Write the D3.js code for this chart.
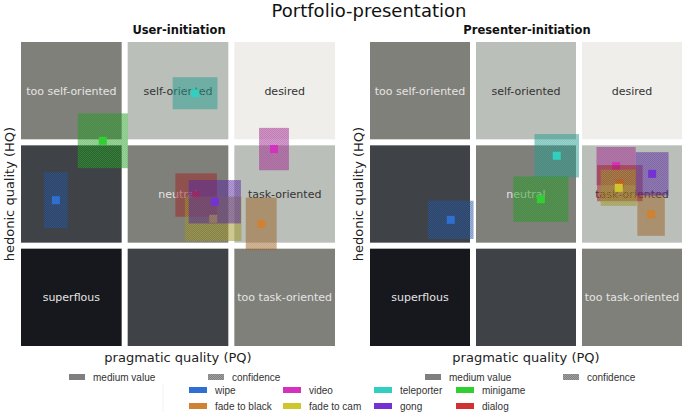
<!doctype html>
<html>
  <head>
    <meta charset="utf-8">
    <title>Portfolio-presentation</title>
    <style>
      body { margin: 0; background: #fff; }
      svg { display: block; }
      .cell-label { font-family: "DejaVu Sans", sans-serif; font-size: 11px; }
      .axis-label { font-family: "DejaVu Sans", sans-serif; font-size: 13px; fill: #222; }
      .legend text { font-family: "Liberation Sans", Arial, sans-serif; font-size: 10px; fill: #333; }
    </style>
  </head>
  <body>
    <div id="chart"></div>
    <script src="https://cdn.jsdelivr.net/npm/d3@7"></script>
    <script>
      // techniques, in legend order
      var techniques = ['wipe', 'fade to black', 'video', 'fade to cam', 'teleporter', 'gong', 'minigame', 'dialog'];
      var techColors = ['#2f6fd2', '#cf8233', '#d332bd', '#cfc62f', '#31cfbf', '#7432d2', '#31cf31', '#d13131'];

      // user-initiation: medium values and confidence (half width) for PQ / HQ
      var userPQ     = [-2.29, 1.56, 1.80, 0.66, 0.32, 0.69, -1.41, 0.34];
      var userHQ     = [-0.12, -0.58, 0.87, -0.48, 1.95, -0.15, 1.03, -0.02];
      var userPQConf = [0.22, 0.29, 0.28, 0.53, 0.42, 0.49, 0.47, 0.39];
      var userHQConf = [0.54, 0.51, 0.41, 0.43, 0.31, 0.42, 0.53, 0.42];

      // presenter-initiation
      var presPQ     = [-1.42, 2.36, 1.70, 1.75, 0.58, 2.38, 0.28, 1.77];
      var presHQ     = [-0.50, -0.39, 0.54, 0.12, 0.74, 0.39, -0.10, 0.21];
      var presPQConf = [0.43, 0.26, 0.37, 0.34, 0.42, 0.31, 0.52, 0.43];
      var presHQConf = [0.37, 0.42, 0.37, 0.35, 0.42, 0.42, 0.44, 0.35];

      // portfolio regions, top row (high HQ) first, left column (low PQ) first
      var regionLabels = [
        ['too self-oriented', 'self-oriented', 'desired'],
        ['', 'neutral', 'task-oriented'],
        ['superflous', '', 'too task-oriented']
      ];
      var regionColors = [
        ['#80807a', '#babfb9', '#efeeea'],
        ['#3f4347', '#80807a', '#babfb9'],
        ['#17181d', '#3f4347', '#80807a']
      ];
      var regionBounds = [-3, -1, 1, 3];

      var drawOrder = [2, 0, 1, 7, 3, 4, 5, 6];

      var width = 685, height = 414;
      var svg = d3.select('#chart').append('svg')
        .attr('width', width)
        .attr('height', height);

      // checker hatch patterns for confidence rectangles
      var defs = svg.append('defs');
      function makeHatch(id, color, a, b) {
        var p = defs.append('pattern')
          .attr('id', id)
          .attr('patternUnits', 'userSpaceOnUse')
          .attr('width', 2).attr('height', 2);
        p.append('rect').attr('width', 2).attr('height', 2)
          .attr('fill', d3.color(color).darker(1.2)).attr('fill-opacity', a);
        p.append('rect').attr('width', 1).attr('height', 1)
          .attr('fill', color).attr('fill-opacity', b);
        p.append('rect').attr('x', 1).attr('y', 1).attr('width', 1).attr('height', 1)
          .attr('fill', color).attr('fill-opacity', b);
      }
      techColors.forEach(function(c, i) { makeHatch('hatch' + i, c, 0.42, 0.3); });
      makeHatch('hatchGray', '#b0b0b0', 0.9, 0.6);

      svg.append('text')
        .attr('x', 369).attr('y', 17)
        .attr('text-anchor', 'middle')
        .style('font-family', '"DejaVu Sans", sans-serif')
        .style('font-size', '18px')
        .attr('fill', '#111')
        .text('Portfolio-presentation');

      function drawPanel(title, xRange, pq, hq, pqConf, hqConf) {
        var x = d3.scaleLinear().domain([-3, 3]).range(xRange);
        var y = d3.scaleLinear().domain([3, -3]).range([39, 349]);
        var g = svg.append('g');
        var inset = 3;

        g.append('text')
          .attr('x', (xRange[0] + xRange[1]) / 2 + 1).attr('y', 34)
          .attr('text-anchor', 'middle')
          .style('font-family', '"DejaVu Sans", sans-serif')
          .style('font-size', '11.5px').style('font-weight', 'bold')
          .attr('fill', '#111')
          .text(title);

        var cells = [];
        for (var r = 0; r < 3; r++) {
          for (var c = 0; c < 3; c++) {
            cells.push({
              x0: regionBounds[c], x1: regionBounds[c + 1],
              y0: regionBounds[3 - r], y1: regionBounds[2 - r],
              fill: regionColors[r][c], label: regionLabels[r][c]
            });
          }
        }

        g.selectAll('rect.cell').data(cells).enter().append('rect')
          .attr('class', 'cell')
          .attr('x', function(d) { return x(d.x0) + inset; })
          .attr('y', function(d) { return y(d.y0) + inset; })
          .attr('width', function(d) { return x(d.x1) - x(d.x0) - 2 * inset; })
          .attr('height', function(d) { return y(d.y1) - y(d.y0) - 2 * inset; })
          .attr('fill', function(d) { return d.fill; });

        g.selectAll('text.cell-label').data(cells).enter().append('text')
          .attr('class', 'cell-label')
          .attr('x', function(d) { return x((d.x0 + d.x1) / 2); })
          .attr('y', function(d) { return y((d.y0 + d.y1) / 2); })
          .attr('dy', '0.35em')
          .attr('text-anchor', 'middle')
          .attr('fill', function(d) { return d3.hsl(d.fill).l > 0.6 ? '#333' : '#e4e4e4'; })
          .text(function(d) { return d.label; });

        var marks = drawOrder.map(function(i) {
          return { i: i, pq: pq[i], hq: hq[i], dp: pqConf[i], dh: hqConf[i] };
        });

        var m = g.selectAll('g.mark').data(marks).enter().append('g').attr('class', 'mark');
        m.append('rect')
          .attr('x', function(d) { return x(d.pq - d.dp); })
          .attr('y', function(d) { return y(d.hq + d.dh); })
          .attr('width', function(d) { return x(d.pq + d.dp) - x(d.pq - d.dp); })
          .attr('height', function(d) { return y(d.hq - d.dh) - y(d.hq + d.dh); })
          .attr('fill', function(d) { return 'url(#hatch' + d.i + ')'; });
        m.append('rect')
          .attr('x', function(d) { return x(d.pq) - 4; })
          .attr('y', function(d) { return y(d.hq) - 4; })
          .attr('width', 8).attr('height', 8)
          .attr('fill', function(d) { return techColors[d.i]; });

        g.append('text')
          .attr('class', 'axis-label')
          .attr('x', (xRange[0] + xRange[1]) / 2).attr('y', 362)
          .attr('text-anchor', 'middle')
          .text('pragmatic quality (PQ)');

        var yl = xRange[0] - 9;
        g.append('text')
          .attr('class', 'axis-label')
          .attr('transform', 'translate(' + yl + ',194)rotate(-90)')
          .attr('text-anchor', 'middle')
          .attr('dy', '0.35em')
          .text('hedonic quality (HQ)');
      }

      drawPanel('User-initiation', [18, 338], userPQ, userHQ, userPQConf, userHQConf);
      drawPanel('Presenter-initiation', [367, 685], presPQ, presHQ, presPQConf, presHQConf);

      // legend
      var legend = svg.append('g').attr('class', 'legend');
      var keyItems = [
        { x: 69, fill: '#7f7f7f', label: 'medium value' },
        { x: 208, fill: 'url(#hatchGray)', label: 'confidence' },
        { x: 425, fill: '#7f7f7f', label: 'medium value' },
        { x: 563, fill: 'url(#hatchGray)', label: 'confidence' }
      ];
      keyItems.forEach(function(k) {
        legend.append('rect').attr('x', k.x).attr('y', 374).attr('width', 16).attr('height', 6).attr('fill', k.fill);
        legend.append('text').attr('x', k.x + 24).attr('y', 377).attr('dy', '0.35em').text(k.label);
      });

      legend.append('line')
        .attr('x1', 163).attr('x2', 163).attr('y1', 384).attr('y2', 412)
        .attr('stroke', '#f2f2f2');

      var legendX = [189, 283, 374, 456];
      var legendY = [390, 406];
      techniques.forEach(function(t, i) {
        var col = Math.floor(i / 2), row = i % 2;
        legend.append('rect')
          .attr('x', legendX[col]).attr('y', legendY[row] - 3)
          .attr('width', 18).attr('height', 6)
          .attr('fill', techColors[i]);
        legend.append('text')
          .attr('x', legendX[col] + 26).attr('y', legendY[row])
          .attr('dy', '0.35em')
          .text(t);
      });
    </script>
  </body>
</html>
